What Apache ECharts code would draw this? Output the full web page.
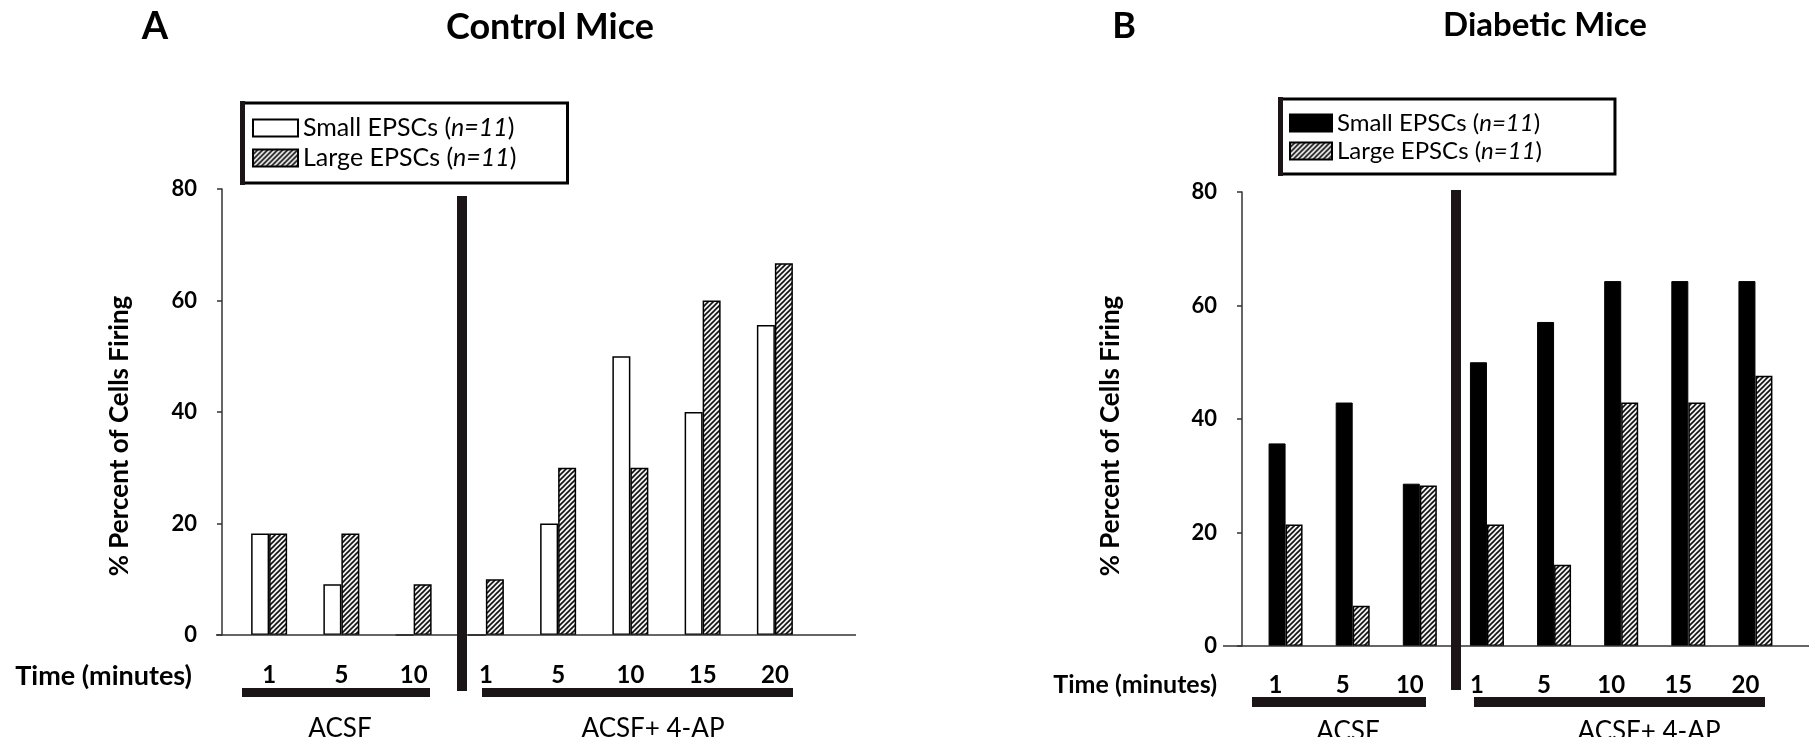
<!DOCTYPE html>
<html>
<head>
<meta charset="utf-8">
<script src="https://cdn.jsdelivr.net/npm/echarts@6/dist/echarts.min.js"></script>
<style>
  html, body { margin: 0; padding: 0; background: #fff; }
  #chart { width: 1809px; height: 737px; }
</style>
</head>
<body>
<div id="chart"></div>
<script>
// time points (minutes) for both panels: 3 in ACSF, 5 in ACSF + 4-AP
const timeLabels = ['1', '5', '10', '1', '5', '10', '15', '20'];
const phaseLabels = ['ACSF', 'ACSF+ 4-AP'];
const groupLabels = ['Small EPSCs', 'Large EPSCs'];
const groupN = [11, 11];

// % of cells firing
const controlSmall = [18.2, 9.1, 0, 0, 20, 50, 40, 55.6];
const controlLarge = [18.2, 18.2, 9.1, 10, 30, 30, 60, 66.7];
const diabeticSmall = [35.7, 42.9, 28.6, 50, 57.1, 64.3, 64.3, 64.3];
const diabeticLarge = [21.4, 7.1, 28.3, 21.4, 14.3, 42.9, 42.9, 47.6];

const FONT = 'Lato, "Open Sans", sans-serif';

function makeHatch() {
  const s = 5;
  const c = document.createElement('canvas');
  c.width = s; c.height = s;
  const ctx = c.getContext('2d');
  ctx.fillStyle = '#f2f2f2';
  ctx.fillRect(0, 0, s, s);
  ctx.strokeStyle = '#111';
  ctx.lineWidth = 1.6;
  ctx.beginPath();
  ctx.moveTo(0, s); ctx.lineTo(s, 0);
  ctx.moveTo(-1, 1); ctx.lineTo(1, -1);
  ctx.moveTo(s - 1, s + 1); ctx.lineTo(s + 1, s - 1);
  ctx.stroke();
  return c;
}
const hatch = { image: makeHatch(), repeat: 'repeat' };

const legendName = name => {
  const i = name.endsWith('Small') ? 0 : 1;
  return groupLabels[i] + ' ({i|n=' + groupN[i] + '})';
};

const chart = echarts.init(document.getElementById('chart'));

const yAxisBase = {
  type: 'value', min: 0, max: 80, interval: 20,
  axisLine: { show: true, lineStyle: { color: '#333', width: 1.5 } },
  axisTick: { show: true, length: 5, lineStyle: { color: '#333', width: 1.5 } },
  splitLine: { show: false },
  axisLabel: { fontFamily: FONT, fontSize: 22, fontWeight: 'bold', color: '#000', margin: 25 }
};

const xAxisBase = {
  type: 'category', data: timeLabels,
  axisLine: { show: false }, axisTick: { show: false },
  axisLabel: { fontFamily: FONT, fontSize: 24, fontWeight: 'bold', color: '#000', margin: 28 }
};

const legendBase = {
  orient: 'vertical', selectedMode: false, icon: 'rect',
  itemGap: 2, borderColor: '#000', borderWidth: 3, backgroundColor: '#fff',
  formatter: legendName
};

const option = {
  animation: false,
  backgroundColor: '#fff',
  grid: [
    { left: 233, top: 189, width: 578, height: 446 },
    { left: 1252, top: 192, width: 537, height: 454 }
  ],
  xAxis: [
    Object.assign({}, xAxisBase, { gridIndex: 0 }),
    Object.assign({}, xAxisBase, { gridIndex: 1,
      axisLabel: Object.assign({}, xAxisBase.axisLabel, { margin: 27, padding: [0, 20, 0, 0] }) })
  ],
  yAxis: [
    Object.assign({}, yAxisBase, { gridIndex: 0, offset: 11 }),
    Object.assign({}, yAxisBase, { gridIndex: 1, offset: 10 })
  ],
  legend: [
    Object.assign({}, legendBase, {
      left: 242, top: 103, data: ['Control Small', 'Control Large'],
      itemWidth: 45, itemHeight: 17, padding: [11, 51, 11, 10],
      textStyle: { fontFamily: FONT, fontSize: 25, lineHeight: 28, color: '#000',
        rich: { i: { fontFamily: FONT, fontSize: 25, fontStyle: 'italic', color: '#000' } } }
    }),
    Object.assign({}, legendBase, {
      left: 1280, top: 99, data: ['Diabetic Small', 'Diabetic Large'],
      itemWidth: 42, itemHeight: 17, padding: [11, 73, 10, 9],
      textStyle: { fontFamily: FONT, fontSize: 24, lineHeight: 26, color: '#000',
        rich: { i: { fontFamily: FONT, fontSize: 24, fontStyle: 'italic', color: '#000' } } }
    })
  ],
  series: [
    { name: 'Control Small', type: 'bar', xAxisIndex: 0, yAxisIndex: 0, data: controlSmall,
      barWidth: 18, barGap: '0%',
      itemStyle: { color: '#fff', borderColor: '#000', borderWidth: 1.5 } },
    { name: 'Control Large', type: 'bar', xAxisIndex: 0, yAxisIndex: 0, data: controlLarge,
      barWidth: 18, barGap: '0%',
      itemStyle: { color: hatch, borderColor: '#000', borderWidth: 1.5 } },
    { name: 'Diabetic Small', type: 'bar', xAxisIndex: 1, yAxisIndex: 1, data: diabeticSmall,
      barWidth: 17, barGap: '0%',
      itemStyle: { color: '#000', borderColor: '#000', borderWidth: 1 } },
    { name: 'Diabetic Large', type: 'bar', xAxisIndex: 1, yAxisIndex: 1, data: diabeticLarge,
      barWidth: 17, barGap: '0%',
      itemStyle: { color: hatch, borderColor: '#000', borderWidth: 1.5 } }
  ]
};

chart.setOption(option);

// decorations: baselines, dividers, phase bars, titles
const y0A = chart.convertToPixel({ yAxisIndex: 0 }, 0);
const y0B = chart.convertToPixel({ yAxisIndex: 1 }, 0);
const dark = '#1c1517';
const boldText = (x, y, text, size, align) => ({
  type: 'text', x: x, y: y, z: 10,
  style: { text: text, fontFamily: FONT, fontSize: size, fontWeight: 'bold', fill: '#000',
    align: align || 'center', verticalAlign: 'middle' }
});
const plainText = (x, y, text) => ({
  type: 'text', x: x, y: y, z: 10,
  style: { text: text, fontFamily: FONT, fontSize: 26, fill: '#000', align: 'center', verticalAlign: 'middle' }
});
const rect = (x, y, w, h) => ({
  type: 'rect', z: 10, shape: { x: x, y: y, width: w, height: h }, style: { fill: dark }
});
const yTitle = (x, y) => ({
  type: 'text', x: x, y: y, rotation: Math.PI / 2, z: 10,
  style: { text: '% Percent of Cells Firing', fontFamily: FONT, fontSize: 26, fontWeight: 'bold',
    fill: '#000', align: 'center', verticalAlign: 'middle' }
});

chart.setOption({
  graphic: [
    { type: 'line', z: 5, shape: { x1: 216, y1: y0A, x2: 856, y2: y0A }, style: { stroke: '#333', lineWidth: 1.5 } },
    { type: 'line', z: 5, shape: { x1: 1223, y1: y0B, x2: 1809, y2: y0B }, style: { stroke: '#333', lineWidth: 1.5 } },
    rect(457, 196, 10, 495),
    rect(1451, 190, 10, 500),
    rect(242, 688, 188, 9),
    rect(482, 688, 311, 9),
    rect(1252, 697, 174, 10),
    rect(1474, 697, 291, 10),
    rect(240, 101, 5, 84),
    rect(1278, 97, 5, 79),
    boldText(155, 27, 'A', 38),
    boldText(550, 27, 'Control Mice', 36),
    boldText(1124, 26, 'B', 36),
    boldText(1545, 25, 'Diabetic Mice', 33),
    boldText(192, 676, 'Time (minutes)', 27, 'right'),
    boldText(1217, 685, 'Time (minutes)', 25, 'right'),
    yTitle(120, 436),
    yTitle(1111, 436),
    plainText(340, 729, phaseLabels[0]),
    plainText(653, 729, phaseLabels[1]),
    plainText(1348, 732, phaseLabels[0]),
    plainText(1649, 732, phaseLabels[1])
  ]
});

window.addEventListener('resize', () => chart.resize());
</script>
</body>
</html>
